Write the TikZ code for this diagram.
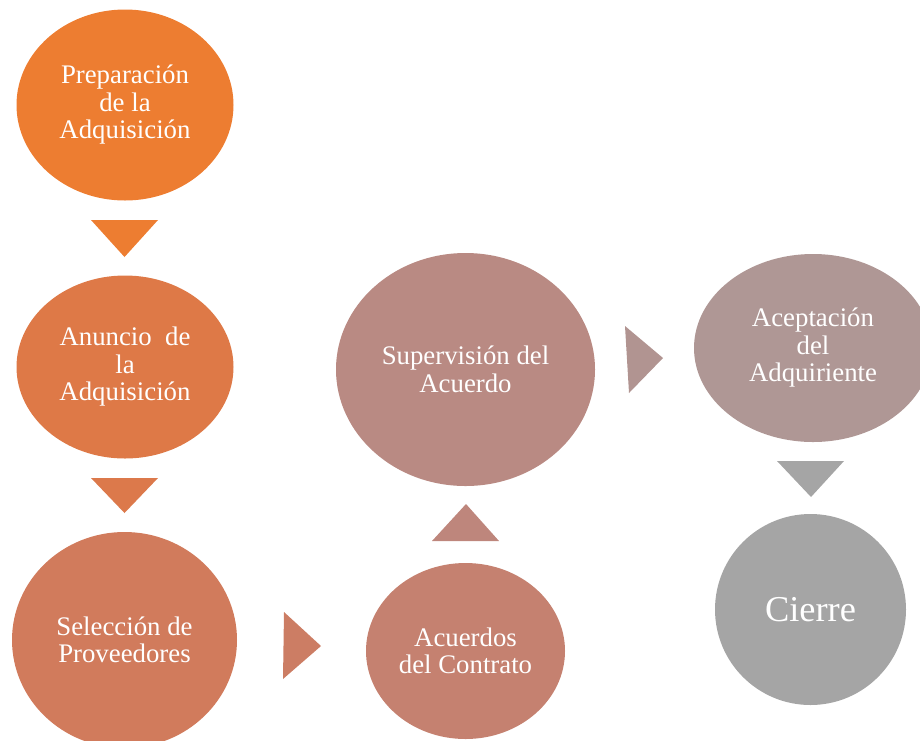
\documentclass[tikz,border=0pt]{standalone}
\usepackage{fontspec}
\setmainfont{Liberation Serif}
\usetikzlibrary{shapes.geometric}
\definecolor{c1}{RGB}{237,125,49}
\definecolor{c2}{RGB}{222,121,71}
\definecolor{c3}{RGB}{209,123,92}
\definecolor{c4}{RGB}{197,129,112}
\definecolor{c5}{RGB}{185,138,131}
\definecolor{c6}{RGB}{175,151,149}
\definecolor{c7}{RGB}{165,165,165}
\definecolor{t2}{RGB}{220,121,75}
\definecolor{t3}{RGB}{204,125,100}
\definecolor{t4}{RGB}{190,134,124}
\definecolor{t5}{RGB}{177,148,145}
\tikzset{
  stage/.style={ellipse, inner sep=0pt, text=white, align=center,
    font=\fontsize{26.8}{27.5}\selectfont},
}
\begin{document}
\begin{tikzpicture}[x=1pt,y=-1pt]
\useasboundingbox (0,0) rectangle (920,740);
\clip (0,0) rectangle (920,740);
\node[stage, fill=c1, minimum width=217pt, minimum height=191pt] (prep) at (125,105) {Preparación\\de la\\Adquisición};
\node[stage, fill=c2, minimum width=217pt, minimum height=183pt] (anun) at (125,367) {Anuncio\ \ de\\la\\Adquisición};
\node[stage, fill=c3, minimum width=225pt, minimum height=216pt] (sel) at (124.5,640) {Selección de\\Proveedores};
\node[stage, fill=c4, minimum width=199pt, minimum height=176pt] (acu) at (465.5,651) {Acuerdos\\del Contrato};
\node[stage, fill=c5, minimum width=259pt, minimum height=233pt] (sup) at (465.5,369.5) {Supervisión del\\Acuerdo};
\node[stage, fill=c6, minimum width=238pt, minimum height=188pt] (acep) at (813,348) {Aceptación\\del\\Adquiriente};
\node[stage, fill=c7, minimum width=191pt, minimum height=191pt, font=\fontsize{36.4}{40}\selectfont] (cierre) at (810.5,609.5) {Cierre};
\fill[c1] (91,220) -- (158,220) -- (124.5,257) -- cycle;
\fill[t2] (91,478) -- (158,478) -- (124.5,513) -- cycle;
\fill[t3] (284,612) -- (321,646) -- (283,679) -- cycle;
\fill[t4] (432,541) -- (499,541) -- (466,504) -- cycle;
\fill[t5] (625,326) -- (663,358) -- (629,393) -- cycle;
\fill[c7] (777,461) -- (844,461) -- (811,497) -- cycle;
\end{tikzpicture}
\end{document}
